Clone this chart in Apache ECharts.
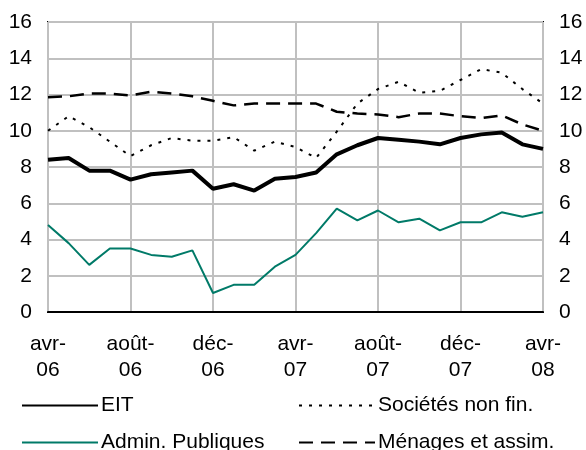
<!DOCTYPE html>
<html>
<head>
<meta charset="utf-8">
<script src="https://cdn.jsdelivr.net/npm/echarts@6/dist/echarts.min.js"></script>
<style>
  html, body { margin: 0; padding: 0; background: #fff; }
  #chart { width: 586px; height: 450px; }
</style>
</head>
<body>
<div id="chart"></div>
<script>
  // mois d'avril 2006 à avril 2008
  var months = ['avr-06', 'mai-06', 'juin-06', 'juil-06', 'août-06', 'sept-06', 'oct-06', 'nov-06', 'déc-06',
    'janv-07', 'févr-07', 'mars-07', 'avr-07', 'mai-07', 'juin-07', 'juil-07', 'août-07', 'sept-07', 'oct-07',
    'nov-07', 'déc-07', 'janv-08', 'févr-08', 'mars-08', 'avr-08'];

  var eit = [8.4, 8.5, 7.8, 7.8, 7.3, 7.6, 7.7, 7.8, 6.8, 7.05, 6.7, 7.35, 7.45,
    7.7, 8.7, 9.2, 9.6, 9.5, 9.4, 9.25, 9.6, 9.8, 9.9, 9.25, 9.0];
  var societes = [10.0, 10.8, 10.2, 9.4, 8.6, 9.2, 9.6, 9.45, 9.45, 9.65, 8.9, 9.4, 9.1,
    8.5, 9.95, 11.5, 12.3, 12.7, 12.1, 12.2, 12.8, 13.4, 13.2, 12.3, 11.5];
  var admin = [4.8, 3.8, 2.6, 3.5, 3.5, 3.15, 3.05, 3.4, 1.05, 1.5, 1.5, 2.5, 3.15,
    4.35, 5.7, 5.05, 5.6, 4.95, 5.15, 4.5, 4.95, 4.95, 5.5, 5.25, 5.5];
  var menages = [11.85, 11.9, 12.05, 12.05, 11.95, 12.15, 12.05, 11.9, 11.65, 11.4, 11.5, 11.5, 11.5,
    11.5, 11.05, 10.95, 10.9, 10.75, 10.95, 10.95, 10.8, 10.7, 10.85, 10.35, 10.0];

  var font = 'Liberation Sans, Arial, sans-serif';
  var chart = echarts.init(document.getElementById('chart'));

  var yAxisBase = {
    type: 'value',
    min: 0,
    max: 16,
    interval: 2,
    axisLine: { show: false },
    axisTick: { show: false },
    axisLabel: { color: '#000', fontSize: 21, fontFamily: font, margin: 16 }
  };

  // une légende par entrée, placée comme dans l'original (2 colonnes x 2 lignes)
  function legendItem(name, left, top) {
    return {
      data: [name], left: left, top: top, padding: 0,
      itemWidth: 76, itemHeight: 20, itemGap: 0,
      itemStyle: { opacity: 0, borderWidth: 0 },
      textStyle: { color: '#000', fontSize: 21, fontFamily: font, padding: [0, 0, 0, -2] }
    };
  }

  chart.setOption({
    animation: false,
    grid: {
      left: 48, right: 43, top: 22, bottom: 138,
      show: true, borderColor: '#000', borderWidth: 2
    },
    legend: [
      legendItem('EIT', 21, 395),
      legendItem('Admin. Publiques', 21, 432),
      legendItem('Sociétés non fin.', 298, 395),
      legendItem('Ménages et assim.', 298, 432)
    ],
    xAxis: {
      type: 'category',
      data: months,
      boundaryGap: false,
      axisLine: { lineStyle: { color: '#000', width: 2 } },
      axisTick: { show: false },
      axisLabel: {
        interval: 3,
        color: '#000', fontSize: 21, fontFamily: font, lineHeight: 26, margin: 19,
        formatter: function (v) { return v.replace('-', '-\n'); }
      },
      splitLine: { show: true, interval: 3, lineStyle: { color: '#c0c0c0', width: 2 } }
    },
    yAxis: [
      Object.assign({}, yAxisBase, {
        position: 'left',
        splitLine: { show: true, lineStyle: { color: '#c0c0c0', width: 2 } }
      }),
      Object.assign({}, yAxisBase, {
        position: 'right',
        splitLine: { show: false }
      })
    ],
    series: [
      {
        name: 'EIT', type: 'line', data: eit, symbol: 'none', z: 5,
        lineStyle: { color: '#000', width: 4 }, itemStyle: { color: '#000' }
      },
      {
        name: 'Sociétés non fin.', type: 'line', data: societes, symbol: 'none',
        lineStyle: { color: '#000', width: 2, type: [3, 7] }, itemStyle: { color: '#000' }
      },
      {
        name: 'Admin. Publiques', type: 'line', data: admin, symbol: 'none',
        lineStyle: { color: '#007a68', width: 2 }, itemStyle: { color: '#007a68' }
      },
      {
        name: 'Ménages et assim.', type: 'line', data: menages, symbol: 'none',
        lineStyle: { color: '#000', width: 2.5, type: [14, 8] }, itemStyle: { color: '#000' }
      }
    ]
  });
</script>
</body>
</html>
